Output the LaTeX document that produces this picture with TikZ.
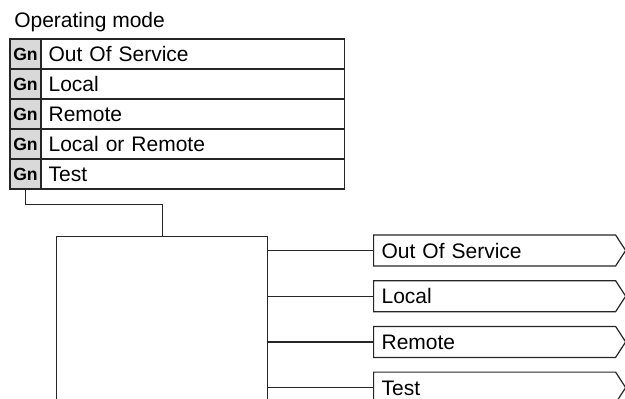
\documentclass[tikz,border=0pt]{standalone}
\usepackage{fontspec}
\setmainfont{Liberation Sans}
\usetikzlibrary{shapes.symbols}

\begin{document}
\begin{tikzpicture}[x=0.75pt,y=-0.75pt]
    \def\px{0.75pt}
    \def\dy{30}

    \useasboundingbox (0,0) rectangle (625,399);
    \clip (0,0) rectangle (625,399);

    \tikzstyle{gn}=[draw=black!85,line width=0.9pt,fill=gray!30,minimum width=31*\px,minimum height=\dy*\px,inner sep=0pt,font=\fontsize{13.2}{15}\selectfont\bfseries]
    \tikzstyle{mode}=[draw=black!85,line width=0.9pt,text width=289*\px,inner xsep=7*\px,minimum height=\dy*\px,align=left,text height=11.3pt,text depth=0pt,font=\fontsize{15.75}{18}\selectfont]
    \tikzstyle{tag}=[draw=black!85,line width=0.9pt,signal,signal to=east,signal pointer angle=114,text width=226*\px,inner xsep=8*\px,minimum height=31*\px,align=left,text height=11.3pt,text depth=0pt,font=\fontsize{15.75}{18}\selectfont]
    \tikzstyle{block}=[draw=black!85,line width=0.9pt,minimum width=211*\px,minimum height=200*\px]

    \node[anchor=base west,inner sep=0pt,font=\fontsize{15.75}{18}\selectfont] (title) at (14,27.5) {Operating mode};

    \node[gn]  (gnA) at (25.5,39+0.5*\dy) {Gn};
    \node[mode,anchor=west]  (modeA) at (41,39+0.5*\dy) {Out Of Service};

    \node[gn]  (gnB) at (25.5,39+1.5*\dy) {Gn};
    \node[mode,anchor=west]  (modeB) at (41,39+1.5*\dy) {Local};

    \node[gn]  (gnC) at (25.5,39+2.5*\dy) {Gn};
    \node[mode,anchor=west]  (modeC) at (41,39+2.5*\dy) {Remote};

    \node[gn]  (gnD) at (25.5,39+3.5*\dy) {Gn};
    \node[mode,anchor=west]  (modeD) at (41,39+3.5*\dy) {Local or Remote};

    \node[gn]  (gnE) at (25.5,39+4.5*\dy) {Gn};
    \node[mode,anchor=west]  (modeE) at (41,39+4.5*\dy) {Test};

    \node[block,anchor=north west]  (fb) at (56,236) {};

    \node[tag,anchor=west]  (tagA) at (373,250.5) {Out Of Service};
    \node[tag,anchor=west]  (tagB) at (373,296.2) {Local};
    \node[tag,anchor=west]  (tagC) at (373,341.9) {Remote};
    \node[tag,anchor=west]  (tagD) at (373,387.6) {Test};

    \tikzstyle{wire} = [draw=black!85, line width=0.9pt]

          \draw [wire] (gnE.south) -- ++(0,15) -| (fb.north);
          \draw [wire] (fb.east |- tagA.west) -- (tagA.west);
          \draw [wire] (fb.east |- tagB.west) -- (tagB.west);
          \draw [wire] (fb.east |- tagC.west) -- (tagC.west);
          \draw [wire] (fb.east |- tagD.west) -- (tagD.west);

\end{tikzpicture}
\end{document}
